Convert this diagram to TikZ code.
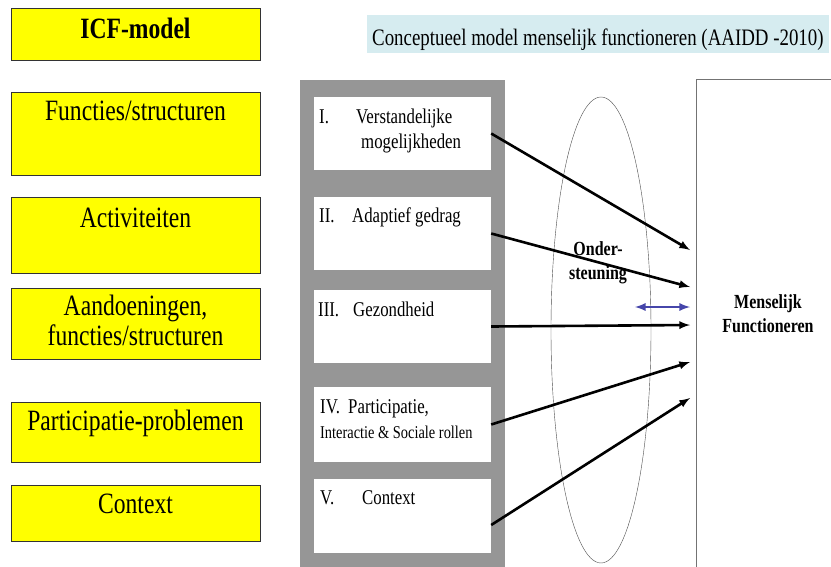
\documentclass[tikz,border=0pt]{standalone}
\usepackage{fontspec}
\setmainfont[FakeStretch=0.8]{Liberation Serif}
\usetikzlibrary{positioning}
\definecolor{icfgeel}{RGB}{255,255,0}
\definecolor{titelblauw}{RGB}{214,236,240}
\definecolor{kadergrijs}{RGB}{150,150,150}
\definecolor{steunblauw}{RGB}{70,70,170}
\begin{document}
\begin{tikzpicture}[x=1pt, y=-1pt,
    ybox/.style={rectangle, draw=black!80, fill=icfgeel, minimum width=249pt, inner sep=0pt},
    ytext/.style={anchor=base, font=\fontsize{29.5}{33}\selectfont, inner sep=0pt},
    wbox/.style={rectangle, fill=white, minimum width=177pt, inner sep=0pt},
    wtext/.style={anchor=base west, font=\fontsize{21}{25}\selectfont, inner sep=0pt},
    pijl/.style={line width=2.6pt, -latex},
    vet/.style={font=\bfseries\fontsize{20}{24}\selectfont, inner sep=0pt}]
    \useasboundingbox (0,0) rectangle (831,566);
    % ICF-model links
    \node[ybox, minimum height=52pt] (icf) at (135.5,34) {};
    \node[ytext] (icft) at (135.5,38) {\bfseries ICF-model};
    \node[ybox, minimum height=83pt] (fs) at (135.5,133.5) {};
    \node[ytext] (fst) at (135.5,120) {Functies/structuren};
    \node[ybox, minimum height=76pt] (act) at (135.5,235) {};
    \node[ytext] (actt) at (135.5,227) {Activiteiten};
    \node[ybox, minimum height=71pt] (aand) at (135.5,323.5) {};
    \node[ytext] (aandt) at (135.5,315) {Aandoeningen,};
    \node[ytext] (aandu) at (135.5,345) {functies/structuren};
    \node[ybox, minimum height=60pt] (part) at (135.5,432) {};
    \node[ytext] (partt) at (135.5,430) {Participatie\textbf{-}problemen};
    \node[ybox, minimum height=56pt] (ctx) at (135.5,513) {};
    \node[ytext] (ctxt) at (135.5,513) {Context};
    % titel
    \node[rectangle, fill=titelblauw, minimum width=462pt, minimum height=38pt, inner sep=0pt] (titel) at (598,34) {};
    \node[anchor=base west, inner sep=0pt, font=\fontsize{23.6}{28}\selectfont] (titelt) at (372,45)
        {Conceptueel model menselijk functioneren (AAIDD -2010)};
    % AAIDD-kader
    \fill[kadergrijs] (300,80) rectangle (505,570);
    \node[wbox, minimum height=73pt] (b1) at (402.5,133.5) {};
    \node[wbox, minimum height=73pt] (b2) at (402.5,233.5) {};
    \node[wbox, minimum height=73pt] (b3) at (402.5,326.5) {};
    \node[wbox, minimum height=75pt] (b4) at (402.5,424.5) {};
    \node[wbox, minimum height=74pt] (b5) at (402.5,516) {};
    \node[wtext] (l1) at (319,123) {I.};
    \node[wtext] (t1) at (356,123) {Verstandelijke};
    \node[wtext] (u1) at (361,148) {mogelijkheden};
    \node[wtext] (l2) at (319,222) {II.};
    \node[wtext] (t2) at (352,222) {Adaptief gedrag};
    \node[wtext] (l3) at (318,316) {III.};
    \node[wtext] (t3) at (353,316) {Gezondheid};
    \node[wtext] (l4) at (320,413) {IV.};
    \node[wtext] (t4) at (348,413) {Participatie,};
    \node[wtext, font=\fontsize{18}{22}\selectfont] (u4) at (320,438) {Interactie \& Sociale rollen};
    \node[wtext] (l5) at (320,504) {V.};
    \node[wtext] (t5) at (362,504) {Context};
    % ondersteuning
    \draw[black!70, line width=0.4pt] (601,330) ellipse (50pt and 233pt);
    \node[vet, align=center] (onder) at (598,263) {Onder-\\steuning};
    % menselijk functioneren
    \draw[black!55, line width=1pt] (840,79) -- (696,79) -- (696,570);
    \node[vet, align=center] (mf) at (768,314) {Menselijk\\Functioneren};
    \coordinate (e1) at (690,250);
    \coordinate (e2) at (690,287);
    \coordinate (e3) at (690,325);
    \coordinate (e4) at (690,362);
    \coordinate (e5) at (690,398);
    \coordinate (s1) at (635,307);
    \coordinate (s2) at (690,307);
    \draw[pijl] (b1.east) -- (e1);
    \draw[pijl] (b2.east) -- (e2);
    \draw[pijl] (b3.east) -- (e3);
    \draw[pijl] (b4.east) -- (e4);
    \draw[pijl] ([yshift=-9pt]b5.east) -- (e5);
    \draw[steunblauw, line width=2.6pt, latex-latex] (s1) -- (s2);
\end{tikzpicture}
\end{document}
